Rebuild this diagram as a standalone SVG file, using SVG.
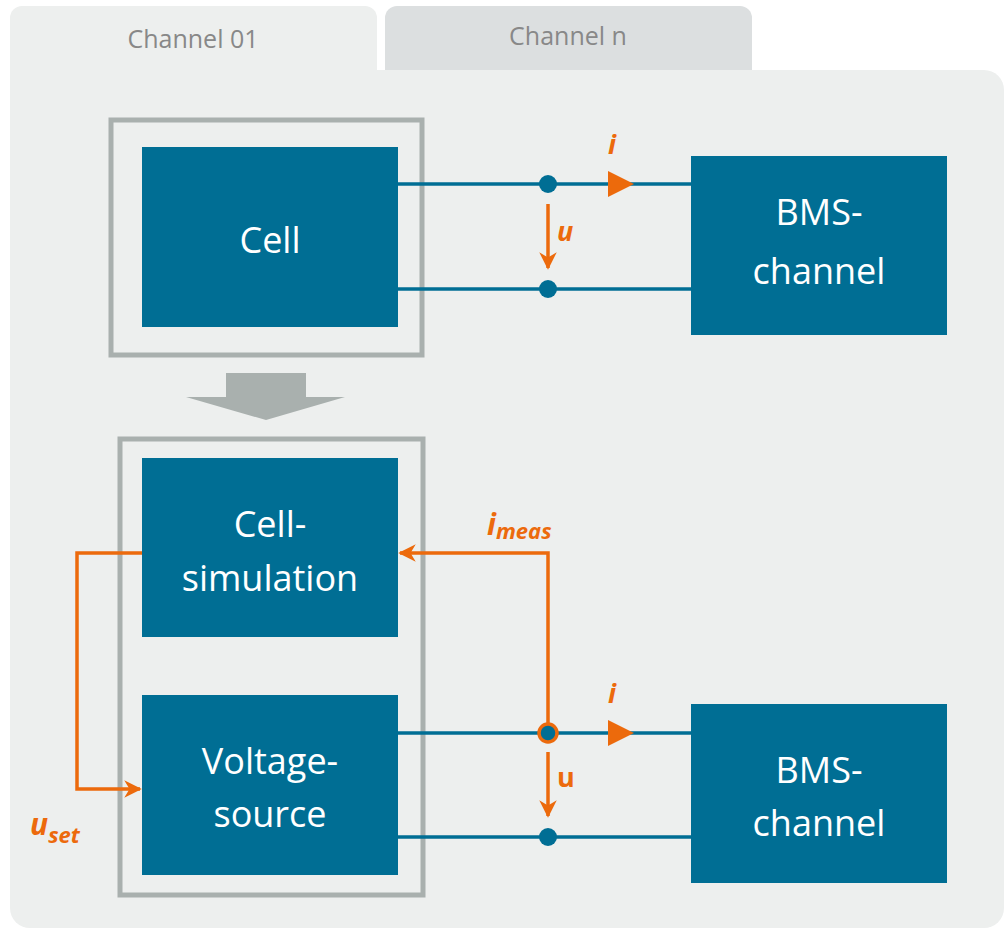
<svg xmlns="http://www.w3.org/2000/svg" width="1004" height="930" viewBox="0 0 1004 930">
<style>
.box{fill:#006E94}
.frame{fill:none;stroke:#A9B0AE;stroke-width:5}
.lbl{font-family:"Open Sans","Liberation Sans",sans-serif;font-size:36px;fill:#fff;text-anchor:middle}
.tab{font-family:"Open Sans","Liberation Sans",sans-serif;font-size:25px;fill:#888;text-anchor:middle}
.wire{stroke:#006E94;stroke-width:3.5;fill:none}
.or{stroke:#EC6A0C;stroke-width:3.5;fill:none}
.ot{font-family:"Open Sans","Liberation Sans",sans-serif;font-weight:bold;fill:#EC6A0C}
</style>
<defs>
<marker id="ah" viewBox="0 0 10 10" refX="9" refY="5" markerWidth="5" markerHeight="5" orient="auto" markerUnits="strokeWidth">
<path d="M0,0 L10,5 L0,10 L3,5 z" fill="#EC6A0C"/>
</marker>
</defs>
<rect width="1004" height="930" fill="#fff"/>
<g id="background">
<path d="M10,70 H984 A20,20 0 0 1 1004,90 V908 A20,20 0 0 1 984,928 H30 A20,20 0 0 1 10,908 Z" fill="#EDEFEE"/>
<path d="M10,80 V18 A12,12 0 0 1 22,6 H365 A12,12 0 0 1 377,18 V80 Z" fill="#EDEFEE"/>
<path d="M385,70 V18 A12,12 0 0 1 397,6 H740 A12,12 0 0 1 752,18 V70 Z" fill="#DCDFE0"/>
<text class="tab" x="193" y="48">Channel 01</text>
<text class="tab" x="568" y="45">Channel n</text>
</g>
<g id="frames">
<rect class="frame" x="111" y="120" width="311" height="235"/>
<rect class="frame" x="120" y="439" width="303" height="456"/>
<path d="M226,373 H306 V397 H345 L266,420 L186,397 H226 Z" fill="#A9B0AE"/>
</g>
<g id="connectors">
<line class="wire" x1="398" y1="184" x2="691" y2="184"/>
<line class="wire" x1="398" y1="289" x2="691" y2="289"/>
<circle cx="548" cy="184" r="9" fill="#006E94"/>
<circle cx="548" cy="289" r="9" fill="#006E94"/>
<path d="M608,171 L634,184 L608,197 Z" fill="#EC6A0C"/>
<line class="or" x1="548" y1="204" x2="548" y2="268" marker-end="url(#ah)"/>
<line class="wire" x1="398" y1="733" x2="691" y2="733"/>
<line class="wire" x1="398" y1="837" x2="691" y2="837"/>
<circle cx="548" cy="837" r="9" fill="#006E94"/>
<path d="M608,720 L634,733 L608,746 Z" fill="#EC6A0C"/>
<line class="or" x1="548" y1="752" x2="548" y2="816" marker-end="url(#ah)"/>
<path class="or" d="M548,724 V553 H400" marker-end="url(#ah)"/>
<circle cx="548" cy="733" r="9" fill="#006E94" stroke="#EC6A0C" stroke-width="3.5"/>
<path class="or" d="M142,553 H77 V789 H140" marker-end="url(#ah)"/>
</g>
<g id="labels">
<text class="ot" x="608" y="154" font-size="27" font-style="italic">i</text>
<text class="ot" x="557" y="241" font-size="27" font-style="italic">u</text>
<text class="ot" x="608" y="703" font-size="27" font-style="italic">i</text>
<text class="ot" x="557" y="787" font-size="27">u</text>
<text class="ot" x="487" y="535" font-size="30" font-style="italic">i<tspan font-size="22" dy="4">meas</tspan></text>
<text class="ot" x="30" y="835" font-size="30" font-style="italic">u<tspan font-size="22" dy="8">set</tspan></text>
</g>
<g id="cell">
<rect class="box" x="142" y="147" width="256" height="180"/>
<text class="lbl" x="270" y="253">Cell</text>
</g>
<g id="bms1">
<rect class="box" x="691" y="156" width="256" height="179"/>
<text class="lbl" x="819" y="225">BMS-</text>
<text class="lbl" x="819" y="284">channel</text>
</g>
<g id="cellsim">
<rect class="box" x="142" y="458" width="256" height="179"/>
<text class="lbl" x="270" y="537">Cell-</text>
<text class="lbl" x="270" y="591">simulation</text>
</g>
<g id="vsource">
<rect class="box" x="142" y="695" width="256" height="180"/>
<text class="lbl" x="270" y="774">Voltage-</text>
<text class="lbl" x="270" y="827">source</text>
</g>
<g id="bms2">
<rect class="box" x="691" y="704" width="256" height="179"/>
<text class="lbl" x="819" y="783">BMS-</text>
<text class="lbl" x="819" y="836">channel</text>
</g>
</svg>
